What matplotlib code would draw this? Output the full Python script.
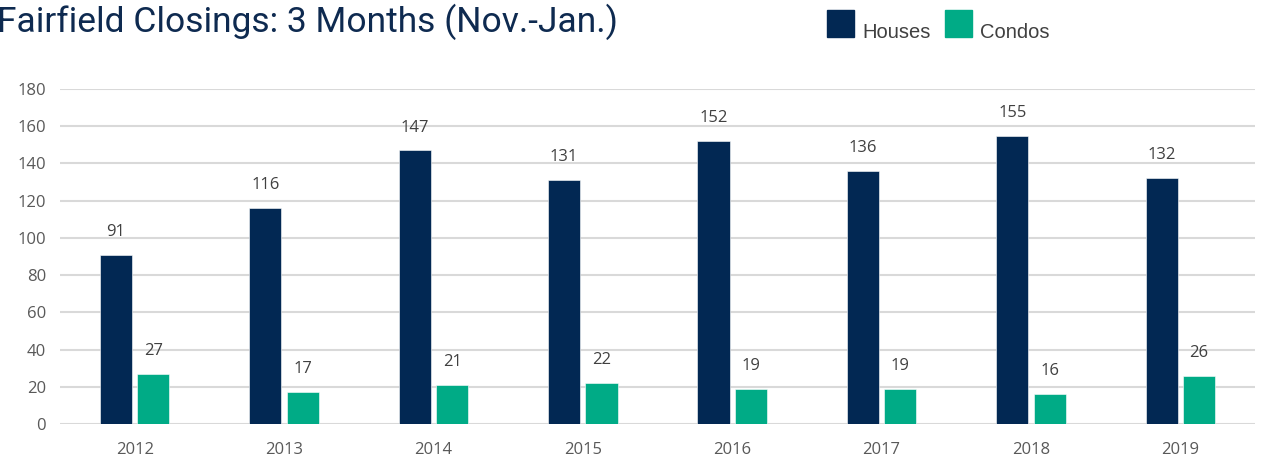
import numpy as np
import matplotlib.pyplot as plt
from matplotlib.patches import Rectangle

# data
years = ['2012', '2013', '2014', '2015', '2016', '2017', '2018', '2019']
houses = [91, 116, 147, 131, 152, 136, 155, 132]
condos = [27, 17, 21, 22, 19, 19, 16, 26]

navy = '#022853'
teal = '#00ab86'
gray_txt = '#595959'

fig = plt.figure(figsize=(12.62, 4.61), dpi=100)
ax = fig.add_axes([60 / 1262, 1 - 424 / 461, 1195 / 1262, 335 / 461])

x = np.arange(len(years))
w = 0.215
off = 0.125
ax.bar(x - off, houses, w, color=navy, edgecolor='white', linewidth=0.4, zorder=3)
ax.bar(x + off, condos, w, color=teal, edgecolor='white', linewidth=0.4, zorder=3)

for i in range(len(years)):
    ax.text(x[i] - off, houses[i] + 8, str(houses[i]), ha='center', va='bottom',
            fontsize=12, color='#404040', family='Open Sans')
    ax.text(x[i] + off, condos[i] + 8, str(condos[i]), ha='center', va='bottom',
            fontsize=12, color='#404040', family='Open Sans')

ax.set_xlim(-0.5, len(years) - 0.5)
ax.set_ylim(0, 180)
ax.set_yticks(np.arange(0, 181, 20))
ax.set_xticks(x)
ax.set_xticklabels(years)
ax.grid(axis='y', color='#d9d9d9', linewidth=1.5, zorder=0)
for s in ax.spines.values():
    s.set_visible(False)
ax.tick_params(length=0, labelsize=12, labelcolor=gray_txt, pad=10)
ax.tick_params(axis='x', pad=13)
for lab in ax.get_xticklabels() + ax.get_yticklabels():
    lab.set_family('Open Sans')

fig.text(-0.002, 1 - 32 / 461, 'Fairfield Closings: 3 Months (Nov.-Jan.)',
         fontsize=25.5, color='#0e2a50', family=['Roboto', 'DejaVu Sans'],
         ha='left', va='baseline')

# legend
for xs, lab, col in [(827, 'Houses', navy), (945, 'Condos', teal)]:
    fig.patches.append(Rectangle((xs / 1262, 1 - 37 / 461), 27 / 1262, 27 / 461,
                                 transform=fig.transFigure, color=col))
    fig.text((xs + 35) / 1262, 1 - 38 / 461, lab, fontsize=14.5, color='#404040',
             family='Liberation Sans', ha='left', va='baseline')

fig.savefig('out.png', dpi=100)
